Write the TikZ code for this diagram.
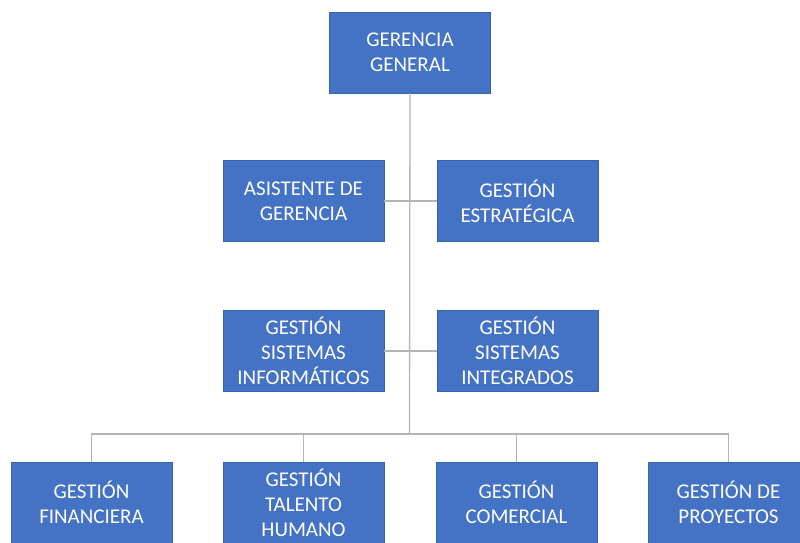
\documentclass[tikz,border=0pt]{standalone}
\usepackage{fontspec}
\setmainfont{Carlito}
\definecolor{boxblue}{HTML}{4472C4}
\definecolor{boxedge}{HTML}{3A62AC}
\definecolor{linegray}{HTML}{B4B4B4}
\tikzset{
  unitbox/.style={draw=boxedge, line width=0.8pt, fill=boxblue, text=white,
    minimum width=161, minimum height=81, inner sep=2pt, align=center,
    font=\fontsize{21}{25}\selectfont},
  orgline/.style={draw=linegray, line width=1.3pt}
}
\begin{document}
\begin{tikzpicture}[x=1pt,y=1pt]
\useasboundingbox (0,0) rectangle (800,542);
\node[unitbox] (ger) at (410.000,489.500) {GERENCIA\\GENERAL};
\node[unitbox] (asi) at (303.500,341.000) {ASISTENTE DE\\GERENCIA};
\node[unitbox] (est) at (517.500,341.000) {GESTIÓN\\ESTRATÉGICA};
\node[unitbox] (inf) at (303.500,191.000) {GESTIÓN\\SISTEMAS\\INFORMÁTICOS};
\node[unitbox] (int) at (517.500,191.000) {GESTIÓN\\SISTEMAS\\INTEGRADOS};
\node[unitbox] (fin) at (91.500,39.500) {GESTIÓN\\FINANCIERA};
\node[unitbox] (tal) at (303.500,39.500) {GESTIÓN\\TALENTO\\HUMANO};
\node[unitbox] (com) at (516.500,39.500) {GESTIÓN\\COMERCIAL};
\node[unitbox] (pro) at (728.500,39.500) {GESTIÓN DE\\PROYECTOS};
\coordinate (bus) at (409.500,108.000);
\draw[orgline] (ger.south) -- (bus);
\draw[orgline] (asi.east) -- (est.west);
\draw[orgline] (inf.east) -- (int.west);
\draw[orgline] (bus) -| (fin.north);
\draw[orgline] (bus) -| (tal.north);
\draw[orgline] (bus) -| (com.north);
\draw[orgline] (bus) -| (pro.north);
\end{tikzpicture}
\end{document}
